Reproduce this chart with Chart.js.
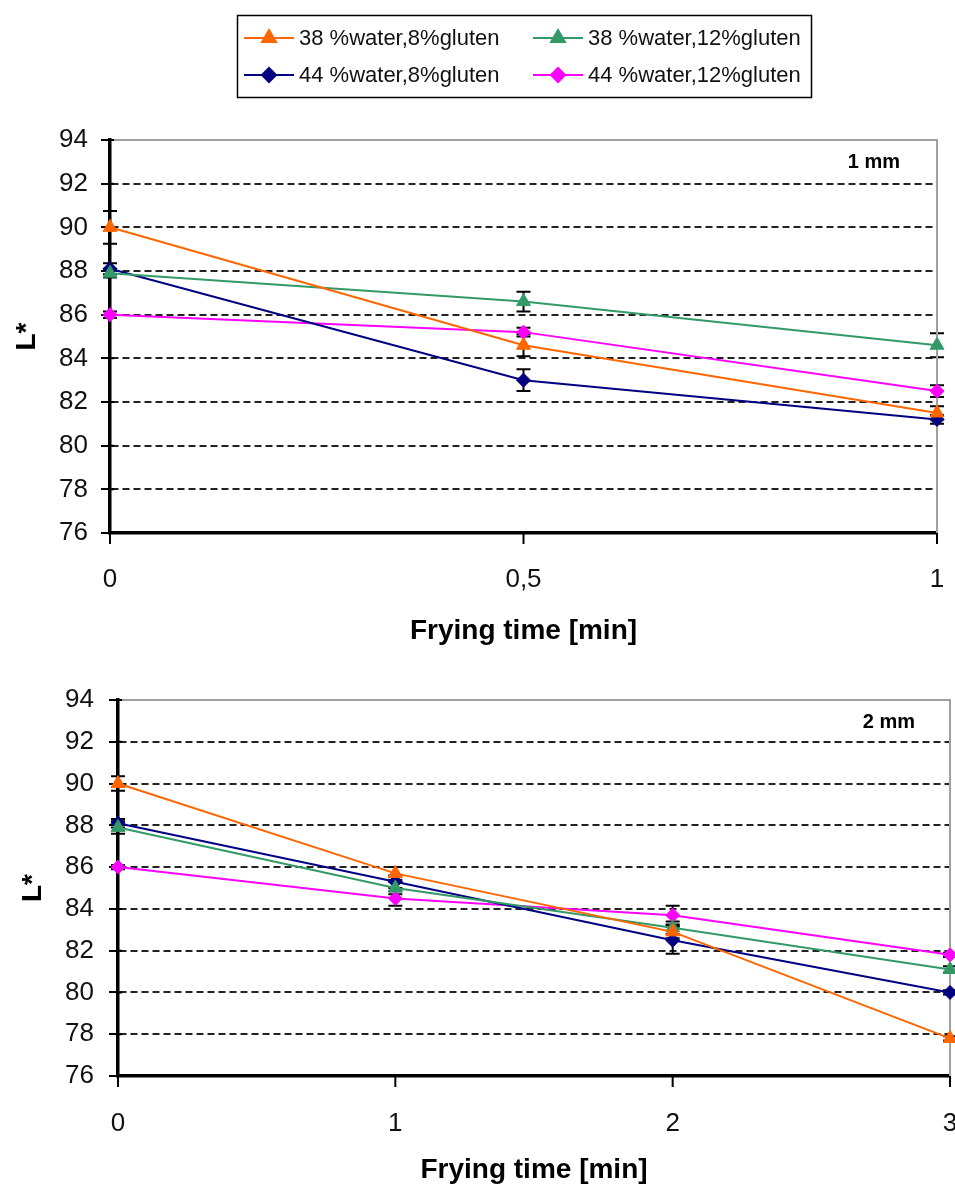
<!DOCTYPE html>
<html>
<head>
<meta charset="utf-8">
<title>L* vs frying time</title>
<script src="https://cdn.jsdelivr.net/npm/chart.js@4.4.1/dist/chart.umd.min.js"></script>
<style>
  html, body { margin: 0; padding: 0; background: #fff; overflow: hidden; }
  #wrapTop { position: absolute; left: 0; top: 0; width: 955px; height: 660px; }
  #wrapBottom { position: absolute; left: 0; top: 660px; width: 975px; height: 529px; }
</style>
</head>
<body>
<div id="wrapTop"><canvas id="chart1mm"></canvas></div>
<div id="wrapBottom"><canvas id="chart2mm"></canvas></div>
<script>
// Series names
const seriesLabels = ['38 %water,8%gluten', '38 %water,12%gluten', '44 %water,8%gluten', '44 %water,12%gluten'];

// 1 mm slices
const times1mm = [0, 0.5, 1];
const water38gluten8_1mm = [90.0, 84.6, 81.5];
const water38gluten12_1mm = [87.9, 86.6, 84.6];
const water44gluten8_1mm = [88.1, 83.0, 81.2];
const water44gluten12_1mm = [86.0, 85.2, 82.5];
const err38_8_1mm = [0.75, 0.5, 0.3];
const err38_12_1mm = [0.2, 0.45, 0.55];
const err44_8_1mm = [0.25, 0.5, 0.2];
const err44_12_1mm = [0.15, 0.2, 0.27];

// 2 mm slices
const times2mm = [0, 1, 2, 3];
const water38gluten8_2mm = [90.0, 85.7, 82.9, 77.8];
const water38gluten12_2mm = [87.9, 85.0, 83.1, 81.1];
const water44gluten8_2mm = [88.1, 85.3, 82.5, 80.0];
const water44gluten12_2mm = [86.0, 84.5, 83.7, 81.8];
const err38_8_2mm = [0.35, 0.3, 0.3, 0.1];
const err38_12_2mm = [0.3, 0.3, 0.3, 0.15];
const err44_8_2mm = [0.2, 0.3, 0.65, 0.1];
const err44_12_2mm = [0.1, 0.35, 0.45, 0.1];

const yTicks = [76, 78, 80, 82, 84, 86, 88, 90, 92, 94];

const seriesColors = ['#ff6600', '#339966', '#000080', '#ff00ff'];
const seriesMarkers = ['triangle', 'triangle', 'rectRot', 'rectRot'];
const markerSizes = [8, 8, 7, 7];

const FONT = '"Liberation Sans", Arial, sans-serif';

function makeDatasets(times, seriesList, errList) {
    return seriesList.map((vals, i) => ({
        label: seriesLabels[i],
        data: times.map((t, j) => ({ x: t, y: vals[j] })),
        errors: errList[i],
        borderColor: seriesColors[i],
        backgroundColor: seriesColors[i],
        borderWidth: 2,
        pointStyle: seriesMarkers[i],
        pointRadius: markerSizes[i],
        pointBorderWidth: 1,
        tension: 0,
        fill: false,
        clip: false
    }));
}

// Error bars drawn from each dataset's errors array
const errorBarPlugin = {
    id: 'errorBars',
    beforeDatasetsDraw(chart) {
        const ctx = chart.ctx;
        const xs = chart.scales.x, ys = chart.scales.y;
        ctx.save();
        ctx.strokeStyle = '#000';
        ctx.lineWidth = 2;
        chart.data.datasets.forEach(ds => {
            if (!ds.errors) return;
            ds.data.forEach((p, j) => {
                const e = ds.errors[j];
                if (!e) return;
                const x = xs.getPixelForValue(p.x);
                const y1 = ys.getPixelForValue(p.y + e);
                const y2 = ys.getPixelForValue(p.y - e);
                ctx.beginPath();
                ctx.moveTo(x, y1); ctx.lineTo(x, y2);
                ctx.moveTo(x - 7, y1); ctx.lineTo(x + 7, y1);
                ctx.moveTo(x - 7, y2); ctx.lineTo(x + 7, y2);
                ctx.stroke();
            });
        });
        ctx.restore();
    }
};

// Gray top/right frame, tick marks on both axes and the thickness label
const framePlugin = {
    id: 'frame',
    beforeDatasetsDraw(chart, args, opts) {
        const ctx = chart.ctx;
        const a = chart.chartArea;
        const xs = chart.scales.x, ys = chart.scales.y;
        ctx.save();
        ctx.strokeStyle = '#a0a0a0';
        ctx.lineWidth = 2;
        ctx.beginPath();
        ctx.moveTo(a.left, a.top); ctx.lineTo(a.right, a.top);
        ctx.lineTo(a.right, a.bottom);
        ctx.stroke();
        ctx.strokeStyle = '#000';
        ctx.beginPath();
        ys.ticks.forEach(t => {
            const y = ys.getPixelForValue(t.value);
            ctx.moveTo(a.left, y); ctx.lineTo(a.left + 4, y);
        });
        xs.ticks.forEach(t => {
            const x = xs.getPixelForValue(t.value);
            ctx.moveTo(x, a.bottom); ctx.lineTo(x, a.bottom + 11);
        });
        ctx.stroke();
        if (opts.tag) {
            ctx.fillStyle = '#000';
            ctx.font = 'bold 20px ' + FONT;
            ctx.textAlign = 'right';
            ctx.textBaseline = 'middle';
            ctx.fillText(opts.tag, a.right - opts.tagDx, a.top + 22);
        }
        ctx.restore();
    }
};

// Boxed two-column legend above the first chart
const boxLegendPlugin = {
    id: 'boxLegend',
    afterDraw(chart, args, opts) {
        if (!opts.show) return;
        const ctx = chart.ctx;
        ctx.save();
        ctx.strokeStyle = '#000';
        ctx.lineWidth = 1.5;
        ctx.strokeRect(237.5, 15.5, 574, 82);
        const colX = [244, 533];
        const rowY = [38, 75];
        ctx.font = '22px ' + FONT;
        ctx.textBaseline = 'middle';
        ctx.textAlign = 'left';
        chart.data.datasets.forEach((ds, i) => {
            const x0 = colX[i % 2];
            const y0 = rowY[Math.floor(i / 2)];
            ctx.strokeStyle = ds.borderColor;
            ctx.lineWidth = 2;
            ctx.beginPath();
            ctx.moveTo(x0, y0); ctx.lineTo(x0 + 50, y0);
            ctx.stroke();
            ctx.fillStyle = ds.backgroundColor;
            Chart.helpers.drawPoint(ctx, { pointStyle: ds.pointStyle, radius: ds.pointRadius, borderWidth: 1, rotation: 0 }, x0 + 25, y0);
            ctx.fillStyle = '#111';
            ctx.fillText(ds.label, x0 + 55, y0 + 1);
        });
        ctx.restore();
    }
};

function makeOptions(cfg) {
    return {
        responsive: true,
        maintainAspectRatio: false,
        animation: false,
        layout: { padding: cfg.padding, autoPadding: false },
        plugins: {
            legend: { display: false },
            tooltip: { enabled: false },
            frame: { tag: cfg.tag, tagDx: cfg.tagDx },
            boxLegend: { show: cfg.legend }
        },
        scales: {
            x: {
                type: 'linear',
                min: 0,
                max: cfg.xMax,
                afterBuildTicks: scale => { scale.ticks = cfg.xTicks.map(v => ({ value: v })); },
                afterFit: scale => { scale.height = cfg.xHeight; },
                // invisible tick space keeps labels low; the marks come from the frame plugin
                grid: { drawOnChartArea: false, drawTicks: true, tickLength: cfg.xTickSpace, tickColor: 'rgba(0,0,0,0)' },
                border: { display: true, color: '#000', width: 3.5 },
                ticks: {
                    color: '#111',
                    font: { family: FONT, size: 26 },
                    padding: 3,
                    maxRotation: 0,
                    callback: v => String(v).replace('.', ',')
                },
                title: {
                    display: true,
                    text: 'Frying time [min]',
                    color: '#000',
                    font: { family: FONT, size: 28, weight: 'bold' },
                    padding: { top: 0, bottom: cfg.xTitlePad }
                }
            },
            y: {
                min: 76,
                max: 94,
                afterBuildTicks: scale => { scale.ticks = yTicks.map(v => ({ value: v })); },
                afterFit: scale => { scale.width = cfg.yWidth; },
                grid: {
                    drawTicks: true,
                    tickLength: 9,
                    tickColor: '#000',
                    tickWidth: 2,
                    lineWidth: 2,
                    color: ctx => (ctx.tick && (ctx.tick.value === 94 || ctx.tick.value === 76)) ? 'rgba(0,0,0,0)' : '#222'
                },
                border: { display: true, color: '#000', width: 3.5, dash: [7, 4] },
                ticks: {
                    color: '#111',
                    font: { family: FONT, size: 26 },
                    padding: cfg.yPad
                },
                title: {
                    display: true,
                    text: 'L*',
                    color: '#000',
                    font: { family: FONT, size: 28, weight: 'bold' },
                    padding: { top: cfg.yTitlePad, bottom: 0 }
                }
            }
        }
    };
}

const chart1 = new Chart(document.getElementById('chart1mm').getContext('2d'), {
    type: 'line',
    data: {
        datasets: makeDatasets(times1mm,
            [water38gluten8_1mm, water38gluten12_1mm, water44gluten8_1mm, water44gluten12_1mm],
            [err38_8_1mm, err38_12_1mm, err44_8_1mm, err44_12_1mm])
    },
    options: makeOptions({
        padding: { top: 140, right: 18, left: 0, bottom: 0 },
        xMax: 1, xTicks: times1mm, xHeight: 127, xTickSpace: 28, xTitlePad: 12,
        yWidth: 110, yPad: 13, yTitlePad: 10,
        tag: '1 mm', tagDx: 37, legend: true
    }),
    plugins: [errorBarPlugin, framePlugin, boxLegendPlugin]
});

const chart2 = new Chart(document.getElementById('chart2mm').getContext('2d'), {
    type: 'line',
    data: {
        datasets: makeDatasets(times2mm,
            [water38gluten8_2mm, water38gluten12_2mm, water44gluten8_2mm, water44gluten12_2mm],
            [err38_8_2mm, err38_12_2mm, err44_8_2mm, err44_12_2mm])
    },
    options: makeOptions({
        padding: { top: 40, right: 25, left: 0, bottom: 0 },
        xMax: 3, xTicks: times2mm, xHeight: 113, xTickSpace: 29, xTitlePad: 2,
        yWidth: 118, yPad: 15, yTitlePad: 16,
        tag: '2 mm', tagDx: 35, legend: false
    }),
    plugins: [errorBarPlugin, framePlugin, boxLegendPlugin]
});
</script>
</body>
</html>
